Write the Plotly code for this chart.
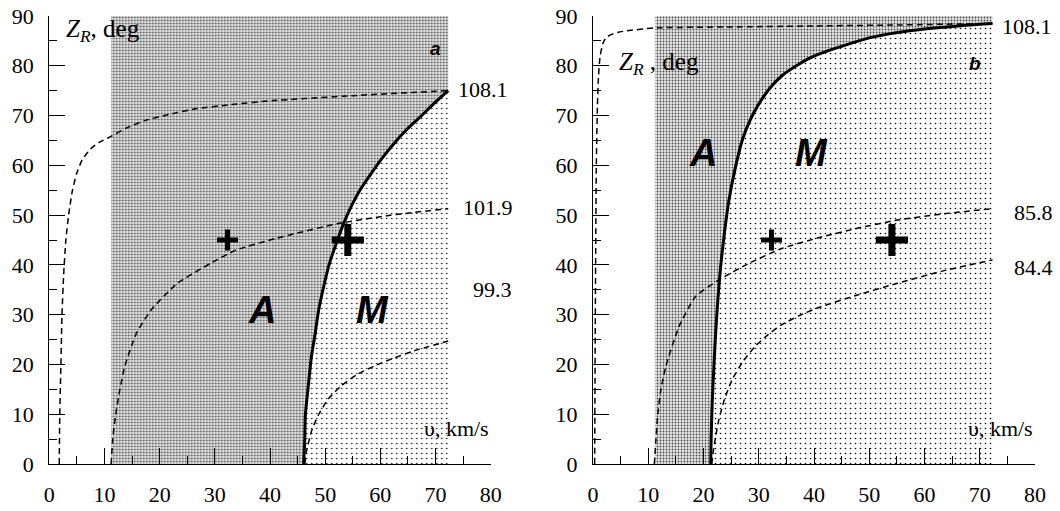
import plotly.graph_objects as go

# ---------------- data ----------------
# Panel a
a_v_1081 = [1.8, 1.9, 2.1, 2.3, 2.6, 3.0, 3.5, 4.2, 5.0, 6.0, 7.5, 9.0, 11.0, 14.0, 17.3,
            22.0, 26.2, 33.0, 40.5, 55.0, 72.3]
a_z_1081 = [0.0, 10.0, 20.0, 30.0, 38.0, 45.0, 50.0, 55.0, 58.5, 61.2, 63.3, 64.6, 65.7, 67.5,
            69.0, 70.3, 71.3, 72.2, 73.0, 74.0, 75.0]
a_v_1019 = [11.2, 11.5, 12.0, 12.8, 13.7, 15.8, 18.5, 23.2, 29.2, 33.9, 41.0, 52.3, 62.0, 72.3]
a_z_1019 = [0.0, 5.0, 9.7, 15.0, 19.7, 26.3, 31.0, 36.3, 40.3, 43.0, 45.3, 48.3, 50.0, 51.3]
a_v_993 = [46.3, 46.6, 47.5, 48.7, 50.5, 52.9, 55.8, 58.9, 62.5, 66.0, 72.3]
a_z_993 = [0.0, 2.5, 6.5, 9.7, 13.0, 15.7, 18.0, 19.7, 21.3, 22.7, 24.7]
a_v_bound = [46.1, 46.3, 46.4, 47.0, 47.5, 48.2, 48.8, 49.6, 50.7, 52.0, 53.3, 54.7, 56.4,
             58.3, 60.3, 62.4, 64.7, 67.2, 69.7, 72.3]
a_z_bound = [0.0, 5.0, 9.7, 16.3, 21.5, 26.3, 30.8, 35.0, 40.0, 44.3, 48.2, 51.7, 55.2,
             58.3, 61.4, 64.3, 67.1, 69.7, 72.4, 75.0]

# Panel b
b_v_1081 = [0.3, 0.4, 0.5, 0.6, 0.8, 1.0, 1.3, 1.8, 2.4, 4.0, 6.0, 11.1, 25.0, 40.0, 55.0, 72.3]
b_z_1081 = [0.0, 26.0, 45.0, 60.0, 72.0, 78.0, 82.0, 84.5, 85.7, 86.6, 87.0, 87.6, 87.8, 88.0,
            88.2, 88.5]
b_v_858 = [11.1, 11.4, 11.7, 12.3, 13.2, 15.6, 18.6, 22.8, 28.2, 34.2, 41.0, 48.0, 55.1, 63.0, 72.3]
b_z_858 = [0.0, 5.0, 9.7, 15.0, 19.7, 27.7, 33.7, 37.0, 40.3, 43.3, 45.5, 47.4, 49.0, 50.2, 51.3]
b_v_844 = [21.5, 21.7, 22.2, 22.8, 23.8, 25.2, 27.2, 29.4, 31.7, 34.2, 37.5, 41.0, 48.0, 55.1,
           63.0, 72.3]
b_z_844 = [0.0, 2.0, 5.5, 9.0, 13.0, 17.0, 20.7, 23.7, 26.0, 28.0, 29.9, 31.5, 34.0, 36.3,
           38.7, 41.0]
b_v_bound = [21.3, 21.4, 21.6, 21.9, 22.2, 22.6, 23.1, 23.8, 24.6, 25.7, 27.0, 28.4, 30.0, 32.0,
             34.2, 36.8, 39.5, 43.0, 46.1, 50.0, 55.1, 60.0, 64.1, 68.0, 72.3]
b_z_bound = [0.0, 6.0, 13.0, 20.0, 26.3, 33.0, 39.7, 46.5, 53.0, 59.2, 65.0, 69.0, 72.3, 75.5,
             78.0, 80.0, 81.7, 83.2, 84.3, 85.6, 86.7, 87.4, 87.8, 88.2, 88.5]

# shaded band limits (km/s) and top (deg)
shade_v_left = 11.2
shade_v_right = 72.3
z_top = 90

# crosses (v, Z)
cross_small = (32.3, 45.0)
cross_big = (54.1, 45.0)

x_ticks = [0, 10, 20, 30, 40, 50, 60, 70, 80]
y_ticks = [0, 10, 20, 30, 40, 50, 60, 70, 80, 90]

# ---------------- figure ----------------
fig = go.Figure()

SERIF = "Liberation Serif"
SANS = "Liberation Sans"

dense_pattern = dict(shape=".", size=3, solidity=0.28, fgcolor="#4a4a4a",
                     bgcolor="#e4e4e4", fillmode="replace")
sparse_pattern = dict(shape=".", size=5, solidity=0.08, fgcolor="#000000",
                      bgcolor="#ffffff", fillmode="replace")


def add_panel(xa, ya, v_b, z_b, curves, cross_s, cross_b):
    # dense region A
    dv = [shade_v_left, shade_v_left, shade_v_right, shade_v_right] + v_b[::-1]
    dz = [0, z_top, z_top, z_b[-1]] + z_b[::-1]
    fig.add_trace(go.Scatter(x=dv, y=dz, fill="toself", mode="none",
                             fillpattern=dense_pattern, xaxis=xa, yaxis=ya,
                             hoverinfo="skip", showlegend=False))
    # sparse region M
    sv = v_b + [shade_v_right]
    sz = z_b + [0]
    fig.add_trace(go.Scatter(x=sv, y=sz, fill="toself", mode="none",
                             fillpattern=sparse_pattern, xaxis=xa, yaxis=ya,
                             hoverinfo="skip", showlegend=False))
    for v, z in curves:
        fig.add_trace(go.Scatter(x=v, y=z, mode="lines", xaxis=xa, yaxis=ya,
                                 line=dict(color="black", width=1.5, dash="6px,4px",
                                           shape="spline", smoothing=0.5),
                                 hoverinfo="skip", showlegend=False))
    fig.add_trace(go.Scatter(x=v_b, y=z_b, mode="lines", xaxis=xa, yaxis=ya,
                             line=dict(color="black", width=3, shape="spline", smoothing=0.5),
                             hoverinfo="skip", showlegend=False))
    fig.add_trace(go.Scatter(x=[cross_s[0]], y=[cross_s[1]], mode="markers",
                             xaxis=xa, yaxis=ya,
                             marker=dict(symbol="cross-thin", size=15,
                                         line=dict(color="black", width=5)),
                             hoverinfo="skip", showlegend=False))
    fig.add_trace(go.Scatter(x=[cross_b[0]], y=[cross_b[1]], mode="markers",
                             xaxis=xa, yaxis=ya,
                             marker=dict(symbol="cross-thin", size=23,
                                         line=dict(color="black", width=7)),
                             hoverinfo="skip", showlegend=False))


add_panel("x", "y", a_v_bound, a_z_bound,
          [(a_v_1081, a_z_1081), (a_v_1019, a_z_1019), (a_v_993, a_z_993)],
          cross_small, cross_big)
add_panel("x2", "y2", b_v_bound, b_z_bound,
          [(b_v_1081, b_z_1081), (b_v_858, b_z_858), (b_v_844, b_z_844)],
          cross_small, cross_big)

W, H = 1060, 511
xdom1 = [49.3 / W, 490.7 / W]
xdom2 = [593.0 / W, 1035.0 / W]
ydom = [(H - 464.0) / H, (H - 16.0) / H]

tick_font = dict(family=SERIF, size=22, color="black")
axis_common = dict(showgrid=False, zeroline=False, showline=True, linecolor="black",
                   linewidth=1.2, ticks="inside", tickcolor="black", tickwidth=1.2,
                   automargin=False, tickfont=tick_font)

xa = dict(axis_common, range=[0, 80], tickvals=x_ticks, ticklen=16,
          minor=dict(ticks="inside", ticklen=8, dtick=5, tick0=0, tickcolor="black", tickwidth=1.2),
          ticklabelstandoff=10)
ya = dict(axis_common, range=[0, 90], tickvals=y_ticks, ticklen=16,
          minor=dict(ticks="inside", ticklen=8, dtick=5, tick0=0, tickcolor="black", tickwidth=1.2),
          ticklabelstandoff=10)

fig.update_layout(
    width=W, height=H, margin=dict(l=0, r=0, t=0, b=0, autoexpand=False),
    paper_bgcolor="white", plot_bgcolor="white",
    font=dict(family=SERIF, size=22, color="black"),
    xaxis=dict(xa, domain=xdom1, anchor="y"),
    yaxis=dict(ya, domain=ydom, anchor="x"),
    xaxis2=dict(xa, domain=xdom2, anchor="y2"),
    yaxis2=dict(ya, domain=ydom, anchor="x2"),
    showlegend=False,
)


def txt(xr, yr, x, y, text, size, family=SERIF, xanchor="left", yanchor="middle"):
    fig.add_annotation(xref=xr, yref=yr, x=x, y=y, text=text, showarrow=False,
                       xanchor=xanchor, yanchor=yanchor,
                       font=dict(family=family, size=size, color="black"))


# panel a texts
txt("x", "y", 2.6, 87.0, "<i>Z</i><sub><i>R</i></sub>, deg", 25)
txt("x", "y", 70.0, 83.5, "<b><i>a</i></b>", 19, SANS, "center")
txt("x", "y", 38.6, 31.0, "<b><i>A</i></b>", 38, SANS, "center")
txt("x", "y", 58.5, 31.0, "<b><i>M</i></b>", 38, SANS, "center")
txt("x", "y", 73.8, 75.2, "108.1", 22)
txt("x", "y", 74.6, 51.5, "101.9", 22)
txt("x", "y", 76.5, 35.0, "99.3", 22)
txt("x", "y", 67.5, 7.2, "υ, km/s", 22)

# panel b texts
txt("x2", "y2", 4.3, 80.5, "<i>Z</i><sub><i>R</i></sub> , deg", 25)
txt("x2", "y2", 69.1, 80.5, "<b><i>b</i></b>", 19, SANS, "center")
txt("x2", "y2", 19.9, 62.5, "<b><i>A</i></b>", 38, SANS, "center")
txt("x2", "y2", 39.5, 62.5, "<b><i>M</i></b>", 38, SANS, "center")
txt("x2", "y2", 73.6, 87.8, "108.1", 22)
txt("x2", "y2", 75.8, 50.5, "85.8", 22)
txt("x2", "y2", 75.8, 39.5, "84.4", 22)
txt("x2", "y2", 67.5, 7.2, "υ, km/s", 22)

fig.write_html("out.html", config={"displayModeBar": False},
               post_script="document.body.style.margin='0';")
